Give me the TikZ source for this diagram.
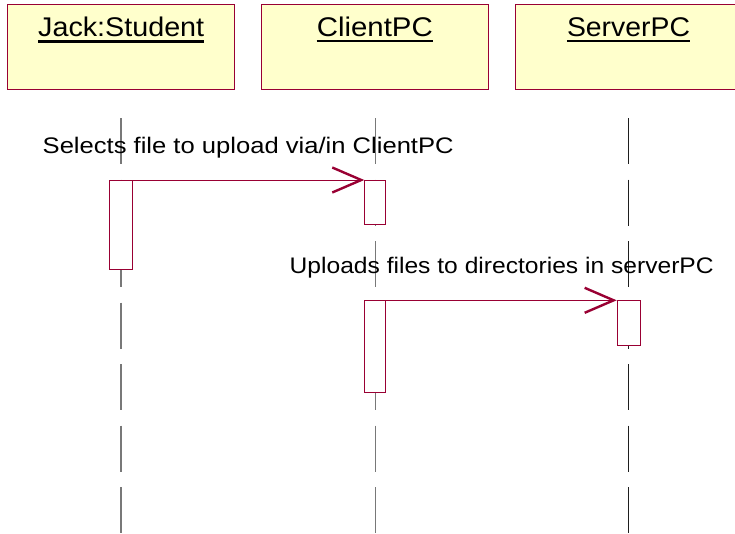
\documentclass[tikz,border=0pt]{standalone}
\usepackage{graphicx}
\usepackage{fontspec}
\setmainfont{Liberation Sans}
\usetikzlibrary{arrows.meta}

\definecolor{rosered}{RGB}{153,0,51}
\definecolor{objfill}{RGB}{255,255,204}
\definecolor{lifegray}{RGB}{120,120,120}
\definecolor{lifedark}{RGB}{30,30,30}

\tikzset{
  objbox/.style={draw=rosered, line width=1pt, fill=objfill, inner sep=0pt,
                 minimum width=227pt, minimum height=85pt},
  objname/.style={inner sep=0pt, anchor=base, font=\fontsize{27}{32}\selectfont},
  nameline/.style={line width=2.7pt, black},
  lifeline/.style={line width=1.8pt, lifegray, dash pattern=on 46pt off 15.5pt},
  actbar/.style={draw=rosered, line width=1pt, fill=white, inner sep=0pt, anchor=north west},
  msg/.style={rosered, line width=1pt,
              -{Straight Barb[length=29pt, width=25pt, line width=2.4pt]}},
  msgtext/.style={inner sep=0pt, anchor=base west, font=\fontsize{22.5}{27}\selectfont}
}

\begin{document}
\begin{tikzpicture}[x=1pt, y=-1pt]
  \useasboundingbox (0,0) rectangle (735,533);
  \clip (0,0) rectangle (735,533);

  % object headers
  \node[objbox] (h1) at (120.8,47.2) {};
  \node[objbox] (h2) at (374.7,47.2) {};
  \node[objbox] (h3) at (628.5,47.2) {};

  \node[objname] (n1) at (121.2,36.7) {\resizebox{166pt}{\height}{Jack:Student}};
  \node[objname] (n2) at (374.8,36.2) {\resizebox{116pt}{\height}{ClientPC}};
  \node[objname] (n3) at (628.5,36.2) {\resizebox{123pt}{\height}{ServerPC}};
  \foreach \n in {n1,n2,n3}
    \draw[nameline] ([yshift=-4.8pt]\n.base west) -- ([yshift=-4.8pt]\n.base east);

  % lifelines
  \coordinate (t1) at (120.8,118);  \coordinate (e1) at (120.8,540);
  \coordinate (t2) at (375.5,118);  \coordinate (e2) at (375.5,540);
  \coordinate (t3) at (628.7,118);  \coordinate (e3) at (628.7,540);
  \draw[lifeline] (t1) -- (e1);
  \draw[lifeline] (t2) -- (e2);
  \draw[lifeline, line width=1.5pt, lifedark] (t3) -- (e3);

  % message labels
  \node[msgtext] (m1) at (42.5,153.3)
    {\resizebox{411pt}{\height}{Selects file to upload via/in ClientPC}};
  \node[msgtext] (m2) at (289.5,273.3)
    {\resizebox{424pt}{\height}{Uploads files to directories in serverPC}};

  % activation bars
  \node[actbar, minimum width=23pt, minimum height=89pt] (b1) at (109,180) {};
  \node[actbar, minimum width=21pt, minimum height=44pt] (b2) at (364.3,180) {};
  \node[actbar, minimum width=21pt, minimum height=92pt] (b3) at (364.3,300.3) {};
  \node[actbar, minimum width=23pt, minimum height=45pt] (b4) at (616.7,300.3) {};

  % messages
  \draw[msg] (b1.north east) -- (b2.north west);
  \draw[msg] (b3.north east) -- (b4.north west);
\end{tikzpicture}
\end{document}
